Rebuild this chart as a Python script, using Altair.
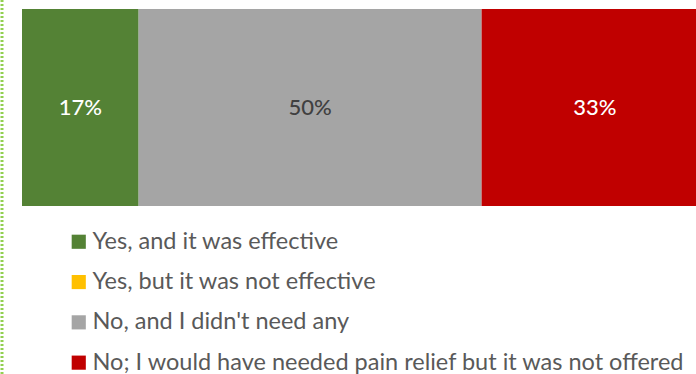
import altair as alt
import pandas as pd

categories = [
    "Yes, and it was effective",
    "Yes, but it was not effective",
    "No, and I didn't need any",
    "No; I would have needed pain relief but it was not offered",
]
values = [17, 0, 50, 33]
colors = ["#548235", "#FFC000", "#A5A5A5", "#C00000"]
label_colors = ["#FFFFFF", "#FFFFFF", "#404040", "#FFFFFF"]

rows = []
start = 0
for i, (c, v) in enumerate(zip(categories, values)):
    rows.append({"cat": c, "order": i, "start": start, "end": start + v,
                 "mid": start + v / 2, "label": f"{v}%", "lc": label_colors[i], "v": v})
    start += v
df = pd.DataFrame(rows)

FONT = "Lato"
xscale = alt.Scale(domain=[0, 98.25], nice=False, zero=False)

bars = alt.Chart(df).mark_bar(clip=True, size=197).encode(
    x=alt.X("start:Q", scale=xscale, axis=None),
    x2="end:Q",
    y=alt.value(98.5),
    color=alt.Color(
        "cat:N",
        scale=alt.Scale(domain=categories, range=colors),
        sort=categories,
        legend=alt.Legend(
            title=None, orient="none", legendX=45, legendY=221,
            direction="vertical", symbolType="square", symbolSize=200,
            symbolStrokeWidth=0, labelFont=FONT, labelFontSize=23.5,
            labelColor="#595959", rowPadding=15.3, labelOffset=2,
            labelLimit=700,
        ),
    ),
)

texts = alt.Chart(df[df["v"] > 0]).mark_text(font=FONT, fontSize=22, fontWeight=500, clip=True).encode(
    x=alt.X("mid:Q", scale=xscale),
    y=alt.value(99),
    text="label:N",
    color=alt.Color("lc:N", scale=None),
)

border = alt.Chart(pd.DataFrame({"a": [0]})).mark_rule(
    color="#92D050", strokeWidth=3, strokeDash=[2, 2]
).encode(x=alt.value(-20), y=alt.value(-9), y2=alt.value(365))

chart = alt.layer(bars, texts, border).properties(
    width=674, height=197,
    autosize=alt.AutoSizeParams(type="none"),
    padding={"left": 22, "top": 9, "right": 0, "bottom": 168},
).configure_view(stroke=None)

chart.save("out.html", embed_options={"renderer": "svg", "actions": False})
